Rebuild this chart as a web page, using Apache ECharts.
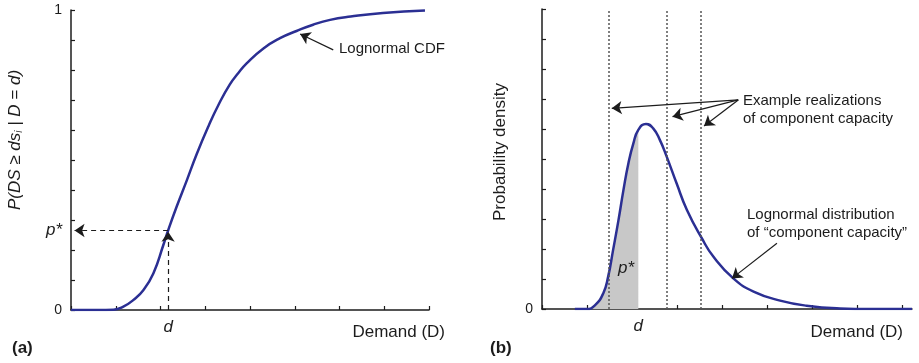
<!DOCTYPE html>
<html>
<head>
<meta charset="utf-8">
<title>Lognormal CDF and PDF</title>
<script src="https://cdn.jsdelivr.net/npm/echarts@6/dist/echarts.min.js"></script>
<style>
  html, body { margin: 0; padding: 0; background: #fff; }
  #chart { width: 919px; height: 363px; }
</style>
</head>
<body>
<div id="chart"></div>
<script>
// (a) lognormal CDF
var cdfX = [0, 0.6, 0.95, 1.17, 1.39, 1.62, 1.84, 2.06, 2.17, 2.36, 2.59, 2.81, 3.07, 3.3, 3.55, 3.74, 3.93, 4.3, 4.67, 5.04, 5.41, 5.79, 6.25, 6.97, 7.91];
var cdfY = [0, 0, 0.001, 0.011, 0.033, 0.067, 0.122, 0.215, 0.265, 0.344, 0.433, 0.52, 0.612, 0.685, 0.752, 0.79, 0.823, 0.872, 0.906, 0.93, 0.951, 0.967, 0.978, 0.99, 0.998];
var pStar = 0.265;
var dA = 2.17;

// (b) lognormal PDF
var pdfX = [0.73, 0.99, 1.18, 1.36, 1.47, 1.58, 1.7, 1.81, 1.92, 2.03, 2.14, 2.31, 2.47, 2.62, 2.77, 2.99, 3.22, 3.55, 3.81, 4.25, 4.7, 5.29, 5.88, 6.62, 7.3, 8.22];
var pdfY = [0, 0, 0.013, 0.052, 0.108, 0.197, 0.297, 0.397, 0.486, 0.552, 0.597, 0.617, 0.602, 0.563, 0.508, 0.419, 0.33, 0.236, 0.174, 0.102, 0.058, 0.028, 0.011, 0.002, 0, 0];
var dB = 2.14;
var realizations = [1.49, 2.78, 3.53];

var xTicks = [0, 1, 2, 3, 4, 5, 6, 7, 8];

var font = '"Liberation Sans", Arial, Helvetica, sans-serif';
var ink = '#1c1c1c';
var blue = '#2b2f93';

function pairs(xs, ys) {
  return xs.map(function (x, i) { return [x, ys[i]]; });
}
var cdfData = pairs(cdfX, cdfY);
var pdfData = pairs(pdfX, pdfY);
var shadeData = pdfData.filter(function (p) { return p[0] <= dB; });

function xAxisCfg(grid, max, dVal) {
  return {
    gridIndex: grid, type: 'value', min: 0, max: max,
    axisLine: { lineStyle: { color: ink, width: 1.5 } },
    axisTick: { inside: true, length: 4, customValues: xTicks, lineStyle: { color: ink, width: 1.2 } },
    axisLabel: {
      customValues: [dVal], formatter: function () { return 'd'; },
      fontFamily: font, fontSize: 17, fontStyle: 'italic', color: ink, margin: 9
    },
    splitLine: { show: false }
  };
}
function yAxisCfg(grid, labels) {
  return {
    gridIndex: grid, type: 'value', min: 0, max: 1, interval: 0.1,
    axisLine: { show: true, lineStyle: { color: ink, width: 1.5 } },
    axisTick: { show: true, inside: true, length: 4, lineStyle: { color: ink, width: 1.2 } },
    axisLabel: {
      customValues: labels,
      formatter: function (v) { return v === pStar ? '{p|p*}' : String(v); },
      fontFamily: font, fontSize: 14, color: ink, margin: 9,
      rich: { p: { fontFamily: font, fontSize: 17, fontStyle: 'italic', color: ink } }
    },
    splitLine: { show: false }
  };
}

var arrowLine = function (from, to) {
  return [{ coord: from, symbol: 'none' }, { coord: to, symbol: 'arrow' }];
};

var option = {
  animation: false,
  backgroundColor: '#fff',
  grid: [
    { left: 71, top: 10, width: 358, height: 300 },
    { left: 542, top: 9, width: 370, height: 300 }
  ],
  xAxis: [xAxisCfg(0, 8, dA), xAxisCfg(1, 8.22, dB)],
  yAxis: [yAxisCfg(0, [0, pStar, 1]), yAxisCfg(1, [0])],
  series: [
    {
      type: 'line', xAxisIndex: 0, yAxisIndex: 0, data: cdfData,
      smooth: 0.5, showSymbol: false, z: 3,
      lineStyle: { color: blue, width: 2.5 }
    },
    {
      // dashed guide lines d -> p*
      type: 'line', xAxisIndex: 0, yAxisIndex: 0, data: [], z: 2, silent: true,
      markLine: {
        silent: true, symbol: ['none', 'arrow'], symbolSize: 10,
        label: { show: false },
        lineStyle: { color: ink, width: 1.2, type: [5, 4] },
        data: [
          arrowLine([dA, 0], [dA, pStar - 0.004]),
          arrowLine([dA, pStar], [0.08, pStar])
        ]
      }
    },
    {
      type: 'line', xAxisIndex: 0, yAxisIndex: 0, data: [], z: 4, silent: true,
      markLine: {
        silent: true, symbol: ['none', 'arrow'], symbolSize: 10,
        label: { show: false },
        lineStyle: { color: ink, width: 1.2, type: 'solid' },
        data: [arrowLine([5.86, 0.867], [5.12, 0.92])]
      }
    },
    {
      type: 'line', xAxisIndex: 1, yAxisIndex: 1, data: shadeData,
      smooth: 0.5, showSymbol: false, z: 1,
      lineStyle: { width: 0, color: '#c8c8c8' },
      areaStyle: { color: '#c8c8c8', opacity: 1 }
    },
    {
      type: 'line', xAxisIndex: 1, yAxisIndex: 1, data: [], z: 2, silent: true,
      markLine: {
        silent: true, symbol: 'none',
        label: { show: false },
        lineStyle: { color: '#555', width: 1.5, type: [2, 2] },
        data: realizations.map(function (r) { return [{ coord: [r, 0] }, { coord: [r, 1] }]; })
      }
    },
    {
      type: 'line', xAxisIndex: 1, yAxisIndex: 1, data: pdfData,
      smooth: 0.5, showSymbol: false, z: 3,
      lineStyle: { color: blue, width: 2.5 }
    },
    {
      type: 'line', xAxisIndex: 1, yAxisIndex: 1, data: [], z: 4, silent: true,
      markLine: {
        silent: true, symbol: ['none', 'arrow'], symbolSize: 10,
        label: { show: false },
        lineStyle: { color: ink, width: 1.2, type: 'solid' },
        data: [
          arrowLine([4.36, 0.697], [1.55, 0.669]),
          arrowLine([4.36, 0.697], [2.9, 0.641]),
          arrowLine([4.36, 0.697], [3.6, 0.61]),
          arrowLine([5.22, 0.219], [4.22, 0.102])
        ]
      }
    }
  ],
  graphic: [
    { type: 'text', x: 15.5, y: 140, rotation: Math.PI / 2,
      style: { text: '{i|P(DS ≥ ds}{s|i}{i| | D = d)}', align: 'center', verticalAlign: 'middle', fill: ink,
        rich: {
          i: { fontFamily: font, fontSize: 17, fontStyle: 'italic', fill: ink },
          s: { fontFamily: font, fontSize: 10, fontStyle: 'italic', fill: ink, verticalAlign: 'bottom', padding: [6, 0, 0, 0] }
        } } },
    { type: 'text', x: 500, y: 152, rotation: Math.PI / 2,
      style: { text: 'Probability density', font: '17px ' + font, align: 'center', verticalAlign: 'middle', fill: ink } },
    { type: 'text', x: 445, y: 332,
      style: { text: 'Demand (D)', font: '17px ' + font, align: 'right', verticalAlign: 'middle', fill: ink } },
    { type: 'text', x: 903, y: 332,
      style: { text: 'Demand (D)', font: '17px ' + font, align: 'right', verticalAlign: 'middle', fill: ink } },
    { type: 'text', x: 12, y: 348,
      style: { text: '(a)', font: 'bold 17px ' + font, align: 'left', verticalAlign: 'middle', fill: ink } },
    { type: 'text', x: 490, y: 348,
      style: { text: '(b)', font: 'bold 17px ' + font, align: 'left', verticalAlign: 'middle', fill: ink } },
    { type: 'text', x: 339, y: 49,
      style: { text: 'Lognormal CDF', font: '15px ' + font, align: 'left', verticalAlign: 'middle', fill: ink } },
    { type: 'text', x: 743, y: 110,
      style: { text: 'Example realizations\nof component capacity', font: '15px ' + font, lineHeight: 18, align: 'left', verticalAlign: 'middle', fill: ink } },
    { type: 'text', x: 747, y: 224,
      style: { text: 'Lognormal distribution\nof \u201ccomponent capacity\u201d', font: '15px ' + font, lineHeight: 18, align: 'left', verticalAlign: 'middle', fill: ink } },
    { type: 'text', x: 626, y: 268, z: 10,
      style: { text: 'p*', font: 'italic 17px ' + font, align: 'center', verticalAlign: 'middle', fill: ink } }
  ]
};

var chart = echarts.init(document.getElementById('chart'), null, { renderer: 'canvas' });
chart.setOption(option);
window.addEventListener('resize', function () { chart.resize(); });
</script>
</body>
</html>
